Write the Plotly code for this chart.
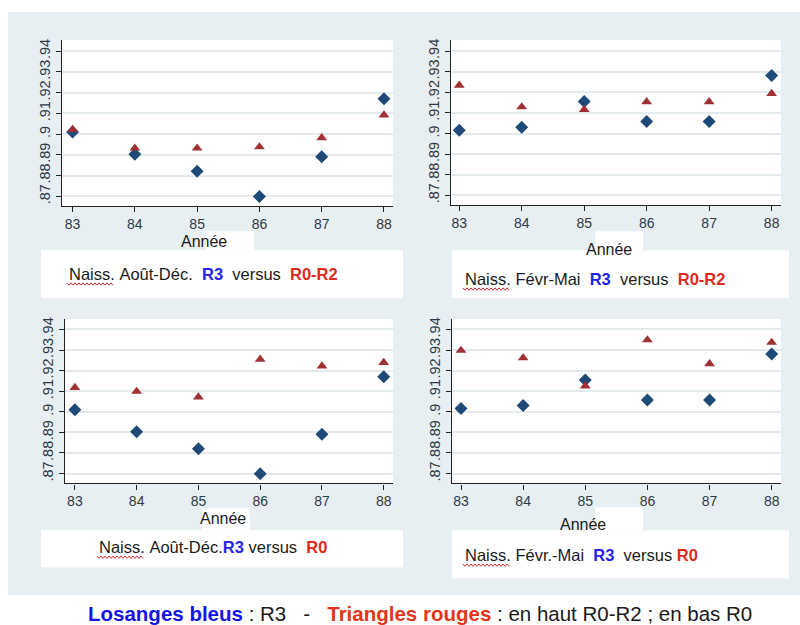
import plotly.graph_objects as go

# ---------------- data ----------------
years = [83, 84, 85, 86, 87, 88]
year_labels = ["83", "84", "85", "86", "87", "88"]
ytick_vals = [0.87, 0.88, 0.89, 0.90, 0.91, 0.92, 0.93, 0.94]
ytick_text = [".87", ".88", ".89", ".9", ".91", ".92", ".93", ".94"]

# blue diamonds (R3)
r3_aout_dec = [0.9010, 0.8903, 0.8821, 0.8699, 0.8891, 0.9170]
r3_fevr_mai = [0.9016, 0.9031, 0.9155, 0.9058, 0.9058, 0.9281]
# red triangles
r0r2_aout_dec = [0.9022, 0.8932, 0.8932, 0.8938, 0.8982, 0.9092]
r0r2_fevr_mai = [0.9234, 0.9129, 0.9116, 0.9154, 0.9154, 0.9194]
r0_aout_dec = [0.9118, 0.9099, 0.9072, 0.9255, 0.9222, 0.9239]
r0_fevr_mai = [0.9298, 0.9262, 0.9125, 0.9349, 0.9233, 0.9337]

panel_blue = [r3_aout_dec, r3_fevr_mai, r3_aout_dec, r3_fevr_mai]
panel_red = [r0r2_aout_dec, r0r2_fevr_mai, r0_aout_dec, r0_fevr_mai]

BLUE_TXT = "#2424e8"
RED_TXT = "#e02a1c"
captions = [
    ("Naiss.", "\u00a0Août-Déc.\u00a0\u00a0", "R3", "\u00a0\u00a0versus\u00a0\u00a0", "R0-R2"),
    ("Naiss.", "\u00a0Févr-Mai\u00a0\u00a0", "R3", "\u00a0\u00a0versus\u00a0\u00a0", "R0-R2"),
    ("Naiss.", "\u00a0Août-Déc.", "R3", "\u00a0versus\u00a0\u00a0", "R0"),
    ("Naiss.", "\u00a0Févr.-Mai\u00a0\u00a0", "R3", "\u00a0\u00a0versus\u00a0", "R0"),
]
axis_title = "Année"

# ---------------- layout geometry (pixels) ----------------
W, H = 800, 625
def fx(x):
    return x / W
def fy(y):
    return 1 - y / H

# plot area boxes: x0, x1, y0, y1
plot_boxes = [(62, 393, 38, 205), (451, 781, 38, 204), (65, 393, 318, 483), (452, 781, 318, 483)]
xranges = [(82.83, 88.145), (82.868, 88.15), (82.84, 88.15), (82.855, 88.15)]
yranges = [(0.8652, 0.9454), (0.8652, 0.9454), (0.8652, 0.9451), (0.8652, 0.9451)]
annee_pos = [(204, 240), (609, 248), (223, 518), (583, 524)]
annee_box = [(206, 254, 230, 249), (595, 643, 230, 249), (202, 250, 508, 530), (595, 643, 507, 530)]
cap_box = [(41, 403, 249, 297), (452, 789, 249, 297), (41, 403, 530, 567), (452, 789, 530, 578)]
cap_pos = [(67, 273), (463, 278), (97, 547), (463, 555)]

FONT = "Liberation Sans, Arial, sans-serif"
BG = "#e8eff2"
GRID = "#e3eaee"
AX = "#222222"
TICKTXT = "#2f3945"
DIAMOND = "#1f4a78"
TRIANGLE = "#a03034"

fig = go.Figure()
shapes = [dict(type="rect", xref="paper", yref="paper", x0=fx(8), x1=fx(800), y0=fy(595), y1=fy(10),
               fillcolor=BG, line=dict(width=0), layer="below")]
annotations = []

for i in range(4):
    n = "" if i == 0 else str(i + 1)
    x0, x1, y0, y1 = plot_boxes[i]
    fig.add_trace(go.Scatter(x=years, y=panel_blue[i], mode="markers", xaxis="x" + n, yaxis="y" + n,
                             marker=dict(symbol="diamond", size=10, color=DIAMOND), showlegend=False))
    fig.add_trace(go.Scatter(x=years, y=panel_red[i], mode="markers", xaxis="x" + n, yaxis="y" + n,
                             marker=dict(symbol="triangle-up", size=9.5, color=TRIANGLE), showlegend=False))
    fig.update_layout(**{
        "xaxis" + n: dict(domain=[fx(x0), fx(x1)], anchor="y" + n, range=list(xranges[i]),
                          tickvals=years, ticktext=year_labels, showline=True, linecolor=AX, linewidth=1.3,
                          ticks="outside", ticklen=5, tickcolor=AX, showgrid=False, zeroline=False,
                          tickfont=dict(family=FONT, size=14, color=TICKTXT), fixedrange=True),
        "yaxis" + n: dict(domain=[fy(y1), fy(y0)], anchor="x" + n, range=list(yranges[i]),
                          tickvals=ytick_vals, ticktext=ytick_text, tickangle=-90, showline=True,
                          linecolor=AX, linewidth=1.3, ticks="outside", ticklen=5, tickcolor=AX,
                          showgrid=True, gridcolor=GRID, gridwidth=1.5, zeroline=False,
                          tickfont=dict(family=FONT, size=14.5, color=TICKTXT), fixedrange=True),
    })
    shapes.append(dict(type="rect", xref="paper", yref="paper", x0=fx(x0), x1=fx(x1), y0=fy(y1), y1=fy(y0),
                       fillcolor="white", line=dict(width=0), layer="below"))
    bx0, bx1, by0, by1 = annee_box[i]
    shapes.append(dict(type="rect", xref="paper", yref="paper", x0=fx(bx0), x1=fx(bx1), y0=fy(by1), y1=fy(by0),
                       fillcolor="white", line=dict(width=0), layer="below"))
    cx0, cx1, cy0, cy1 = cap_box[i]
    shapes.append(dict(type="rect", xref="paper", yref="paper", x0=fx(cx0), x1=fx(cx1), y0=fy(cy1), y1=fy(cy0),
                       fillcolor="white", line=dict(width=0), layer="below"))
    ax_, ay_ = annee_pos[i]
    annotations.append(dict(text=axis_title, x=fx(ax_), y=fy(ay_), xref="paper", yref="paper",
                            xanchor="center", yanchor="middle", showarrow=False,
                            font=dict(family=FONT, size=16, color="#1a1a1a")))
    c = captions[i]
    txt = (c[0] + c[1] + "<b><span style='color:%s'>%s</span></b>" % (BLUE_TXT, c[2]) + c[3]
           + "<b><span style='color:%s'>%s</span></b>" % (RED_TXT, c[4]))
    px_, py_ = cap_pos[i]
    annotations.append(dict(text=txt, x=fx(px_), y=fy(py_), xref="paper", yref="paper",
                            xanchor="left", yanchor="middle", showarrow=False,
                            font=dict(family=FONT, size=16.5, color="#1a1a1a")))
    # spell-check wavy underline under "Naiss."
    ux0, ux1, uy = px_, px_ + 46, py_ + 10
    pts = []
    k = 0
    xx = ux0
    while xx <= ux1:
        yy = uy + (1.2 if k % 2 else -1.2)
        pts.append("%s%.5f,%.5f" % ("M" if k == 0 else "L", fx(xx), fy(yy)))
        xx += 2
        k += 1
    shapes.append(dict(type="path", xref="paper", yref="paper", path=" ".join(pts),
                       line=dict(color="#e03030", width=1), layer="above"))

bottom_caption = ("<b><span style='color:#1414e6'>Losanges bleus</span></b> : R3 \u00a0 - \u00a0 "
                  "<b><span style='color:#e0361a'>Triangles rouges</span></b> : en haut R0-R2 ; en bas R0")
annotations.append(dict(text=bottom_caption, x=fx(420), y=fy(613), xref="paper", yref="paper",
                        xanchor="center", yanchor="middle", showarrow=False,
                        font=dict(family=FONT, size=20.5, color="#1a1a1a")))

fig.update_layout(width=W, height=H, margin=dict(l=0, r=0, t=0, b=0), paper_bgcolor="white",
                  plot_bgcolor="rgba(0,0,0,0)", shapes=shapes, annotations=annotations,
                  font=dict(family=FONT))
fig.write_html("out.html", config={"displayModeBar": False},
               post_script="document.body.style.margin='0';document.body.style.overflow='hidden';")
